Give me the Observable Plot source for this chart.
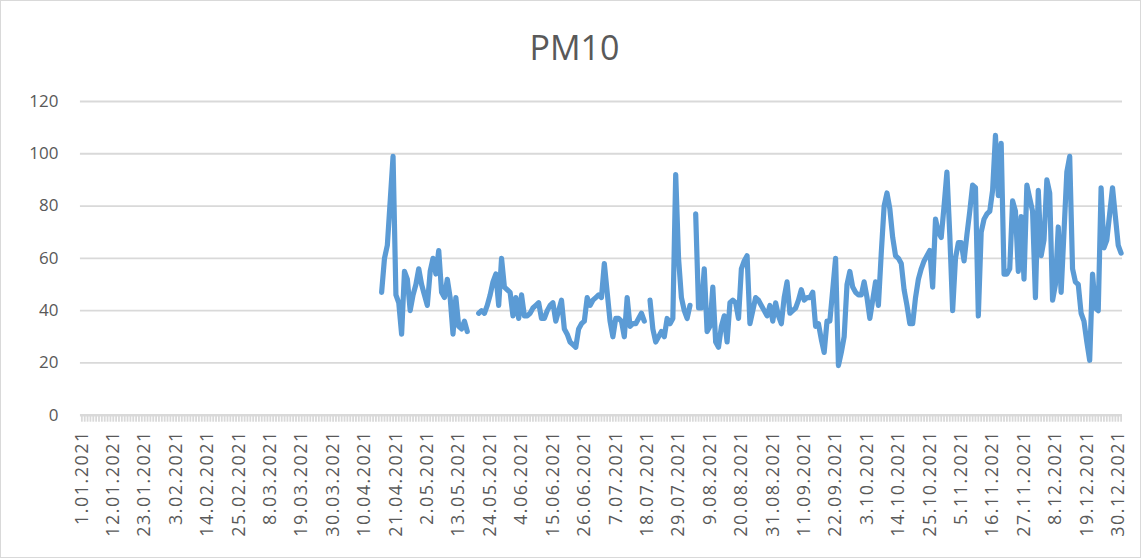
<!DOCTYPE html>
<html>
<head>
<meta charset="utf-8">
<script src="https://cdn.jsdelivr.net/npm/d3@7"></script>
<script src="https://cdn.jsdelivr.net/npm/@observablehq/plot@0.6"></script>
<style>
  body { margin: 0; background: #fff; }
  #chart { position: relative; width: 1139px; height: 556px; border: 1px solid #d9d9d9; background: #fff; overflow: hidden; }
  #title { position: absolute; top: 27px; left: 0; width: 100%; text-align: center; font-family: "Open Sans", sans-serif; font-size: 34px; line-height: 38px; color: #595959; padding-left: 8px; box-sizing: border-box; }
  #plot { position: absolute; top: 78px; left: -1px; }
  g[aria-label="x-axis tick label"] text { letter-spacing: 1.5px; }
</style>
</head>
<body>
<div id="chart">
  <div id="title">PM10</div>
  <div id="plot"></div>
</div>
<script>
// ---- data ----
const seriesName = "PM10";
const firstDay = "2021-04-16";           // first date with a measurement
const yearStart = "2021-01-01";
const yearEnd = "2021-12-31";
// daily PM10 values from 16.04.2021 to 31.12.2021 (null = no measurement)
const pm10 = [
  47, 60, 65, 82, 99, 46, 43, 31, 55, 52,
  40, 46, 50, 56, 50, 46, 42, 55, 60, 54,
  63, 47, 45, 52, 45, 31, 45, 34, 33, 36,
  32, null, null, null, 39, 40, 39, 42, 46, 51,
  54, 42, 60, 49, 48, 47, 38, 45, 37, 46,
  38, 38, 39, 41, 42, 43, 37, 37, 40, 42,
  43, 36, 40, 44, 33, 31, 28, 27, 26, 33,
  35, 36, 45, 42, 44, 45, 46, 45, 58, 47,
  36, 30, 37, 37, 36, 30, 45, 34, 35, 35,
  37, 39, 36, null, 44, 33, 28, 30, 32, 30,
  37, 35, 37, 92, 60, 45, 40, 37, 42, null,
  77, 41, 41, 56, 32, 34, 49, 28, 26, 34,
  38, 28, 43, 44, 43, 37, 56, 59, 61, 35,
  40, 45, 44, 42, 40, 38, 42, 36, 43, 38,
  35, 45, 51, 39, 40, 41, 44, 48, 44, 45,
  45, 47, 34, 35, 29, 24, 36, 36, 48, 60,
  19, 24, 30, 50, 55, 49, 47, 46, 46, 51,
  45, 37, 44, 51, 42, 62, 80, 85, 79, 68,
  61, 60, 58, 48, 42, 35, 35, 45, 52, 56,
  59, 61, 63, 49, 75, 70, 68, 80, 93, 69,
  40, 60, 66, 66, 59, 69, 78, 88, 87, 38,
  70, 75, 77, 78, 86, 107, 84, 104, 54, 54,
  56, 82, 78, 55, 76, 52, 88, 83, 78, 45,
  86, 61, 67, 90, 85, 44, 50, 72, 47, 70,
  93, 99, 56, 51, 50, 39, 36, 28, 21, 54,
  41, 40, 87, 64, 67, 77, 87, 76, 65, 62
];
const xTickLabels = [
  "1.01.2021", "12.01.2021", "23.01.2021", "3.02.2021", "14.02.2021", "25.02.2021",
  "8.03.2021", "19.03.2021", "30.03.2021", "10.04.2021", "21.04.2021", "2.05.2021",
  "13.05.2021", "24.05.2021", "4.06.2021", "15.06.2021", "26.06.2021", "7.07.2021",
  "18.07.2021", "29.07.2021", "9.08.2021", "20.08.2021", "31.08.2021", "11.09.2021",
  "22.09.2021", "3.10.2021", "14.10.2021", "25.10.2021", "5.11.2021", "16.11.2021",
  "27.11.2021", "8.12.2021", "19.12.2021", "30.12.2021"
];
const yTicks = [0, 20, 40, 60, 80, 100, 120];

// ---- build table ----
const start = new Date(firstDay + "T00:00:00Z");
const data = pm10.map((v, i) => ({date: d3.utcDay.offset(start, i), value: v}));
const parseLabel = s => { const [d, m, y] = s.split(".").map(Number); return new Date(Date.UTC(y, m - 1, d)); };
const tickDates = xTickLabels.map(parseLabel);
const labelOf = new Map(xTickLabels.map(s => [+parseLabel(s), s]));
const y0 = new Date(yearStart + "T00:00:00Z");
const y1 = new Date(yearEnd + "T00:00:00Z");
const allDays = d3.utcDay.range(y0, d3.utcDay.offset(y1, 1));
const half = 12 * 3600 * 1000;

const grey = "#595959";
const light = "#d9d9d9";

const chart = Plot.plot({
  width: 1141,
  height: 480,
  marginLeft: 80,
  marginRight: 18,
  marginTop: 22,
  marginBottom: 144,
  style: {fontFamily: "'Open Sans', sans-serif", color: grey, background: "transparent"},
  x: {type: "utc", domain: [new Date(+y0 - half), new Date(+y1 + half)]},
  y: {domain: [0, 120]},
  marks: [
    Plot.gridY(yTicks.filter(d => d > 0), {stroke: light, strokeOpacity: 1, strokeWidth: 1.8}),
    Plot.axisY(yTicks, {tickSize: 0, tickPadding: 22, fontSize: 17, fill: grey, label: null}),
    Plot.axisX(allDays, {tickSize: 7, tickFormat: () => "", stroke: light, strokeWidth: 1.8, label: null}),
    Plot.ruleY([0], {stroke: light, strokeWidth: 2.5}),
    Plot.axisX(tickDates, {tickSize: 0, tickPadding: 15, tickRotate: -90, fontSize: 18, fill: grey,
      tickFormat: d => labelOf.get(+d), label: null}),
    Plot.line(data, {x: "date", y: "value", stroke: "#5b9bd5", strokeWidth: 5.2,
      strokeLinejoin: "round", strokeLinecap: "round"})
  ]
});
document.getElementById("plot").appendChild(chart);
</script>
</body>
</html>
